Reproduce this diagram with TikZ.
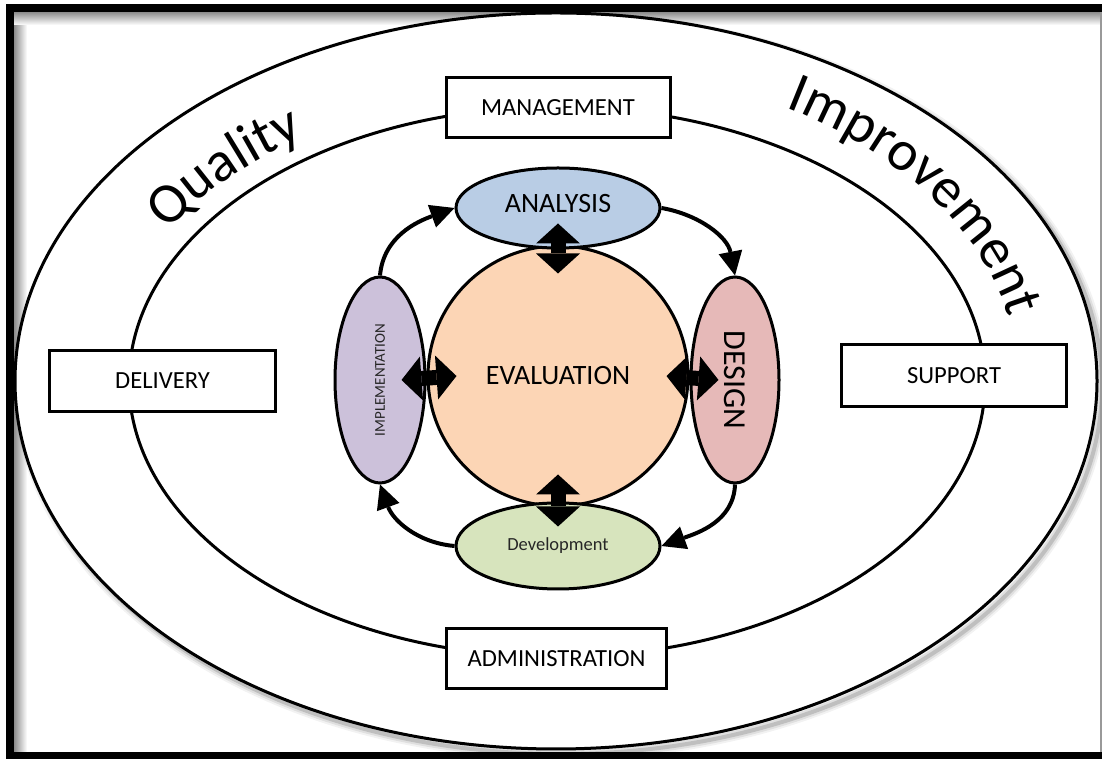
\documentclass[tikz,border=0pt]{standalone}
\usepackage{fontspec}
\setmainfont{Carlito}
\usepackage{graphicx}
\usetikzlibrary{shapes.geometric,arrows.meta,calc,decorations.text}

\definecolor{anafill}{HTML}{B9CDE5}
\definecolor{evafill}{HTML}{FCD5B5}
\definecolor{impfill}{HTML}{CCC1DA}
\definecolor{desfill}{HTML}{E6B9B8}
\definecolor{devfill}{HTML}{D7E4BD}
\newcommand\bigwordfont{\fontsize{57}{60}\selectfont}

\begin{document}
\begin{tikzpicture}[x=1pt,y=1pt,
  ring/.style={line width=3pt},
  labelbox/.style={draw, line width=3pt, fill=white, inner sep=0pt,
    font=\fontsize{24.6}{28}\selectfont},
  phase/.style={draw, line width=3pt, ellipse, inner sep=1pt},
  hub/.style={draw, line width=3pt, circle, inner sep=0pt},
  cyclearrow/.style={line width=4pt, -{Triangle[length=24pt,width=24pt,line width=0pt]}},
  linkarrow/.style={line width=15pt,
    {Triangle[length=20pt,width=44pt,line width=0pt]}-{Triangle[length=20pt,width=44pt,line width=0pt]}},
]
\useasboundingbox (0,0) rectangle (1102,759);
\fill[white] (0,0) rectangle (1102,759);

% soft inner shading along the frame
\shade[left color=black!45, right color=white] (14,7) rectangle (27,747);
\shade[top color=black!45, bottom color=white] (14,734) rectangle (1100,747);

% outer ring with its drop shadow
\foreach \w/\o in {12/0.05, 8/0.08, 4/0.14}
  \draw[line width=\w pt, black, opacity=\o] (561,373) ellipse [x radius=541, y radius=368];
\draw[ring, fill=white] (556,378) ellipse [x radius=541, y radius=368];

% inner ring
\draw[ring] (557,377) ellipse [x radius=428, y radius=275];

% labels sitting on the inner ring
\node[labelbox, minimum width=224, minimum height=60] (mgmt)  at (558,651) {MANAGEMENT};
\node[labelbox, minimum width=226, minimum height=61] (deliv) at (162.5,378) {DELIVERY};
\node[labelbox, minimum width=225, minimum height=62] (supp)  at (954,383.5) {SUPPORT};
\node[labelbox, minimum width=220, minimum height=60] (admin) at (556.5,100.5) {ADMINISTRATION};

% curved words between the rings
\path[decorate, decoration={text along path, text={|\bigwordfont|Quality}, text align=center}]
  (556,378) ++(162:452 and 294) arc[start angle=162, end angle=114, x radius=452, y radius=294];
\path[decorate, decoration={text along path, text={|\bigwordfont|Improvement}, text align=center}]
  (556,378) ++(70:462 and 315) arc[start angle=70, end angle=-2, x radius=462, y radius=315];

% the cycle
\node[hub, fill=evafill, minimum size=260, font=\fontsize{28}{32}\selectfont] (eva) at (558,383) {EVALUATION};
\node[phase, fill=anafill, minimum width=204, minimum height=80, text depth=10pt,
  font=\fontsize{28}{32}\selectfont] (ana) at (558,551) {ANALYSIS};
\node[phase, fill=impfill, minimum width=90, minimum height=206, text=black!85,
  font=\fontsize{15}{18}\selectfont] (imp) at (380,379) {\rotatebox{90}{IMPLEMENTATION}};
\node[phase, fill=desfill, minimum width=88, minimum height=206,
  font=\fontsize{32}{36}\selectfont] (des) at (735,379) {\rotatebox{-90}{DESIGN}};
\node[phase, fill=devfill, minimum width=204, minimum height=86, text=black!85,
  font=\fontsize{18.5}{22}\selectfont] (dev) at (558,213) {Development};

\draw[cyclearrow] (imp.north) to[out=85, in=200] (ana.west);
\draw[cyclearrow] (ana.east) to[out=-10, in=101] (des.north);
\draw[cyclearrow] (des.south) to[out=268, in=20] (dev.east);
\draw[cyclearrow] (dev.west) to[out=175, in=290] (imp.south);

% two-way links with the hub
\draw[linkarrow] ($(ana.south)+(0,26)$) -- ($(eva.north)+(0,-29)$);
\draw[linkarrow] ($(imp.east)+(-25,0)$) -- ($(eva.west)+(30,0)$);
\draw[linkarrow] ($(eva.east)+(-23,0)$) -- ($(des.west)+(29,0)$);
\draw[linkarrow] ($(eva.south)+(0,33)$) -- ($(dev.north)+(0,-25)$);

% frame
\fill[black] (6,747) rectangle (1102,755);
\fill[black] (6,0) rectangle (14,755);
\fill[black] (6,0) rectangle (1102,7);
\fill[black!40] (1100,7) rectangle (1101.5,747);
\end{tikzpicture}
\end{document}
